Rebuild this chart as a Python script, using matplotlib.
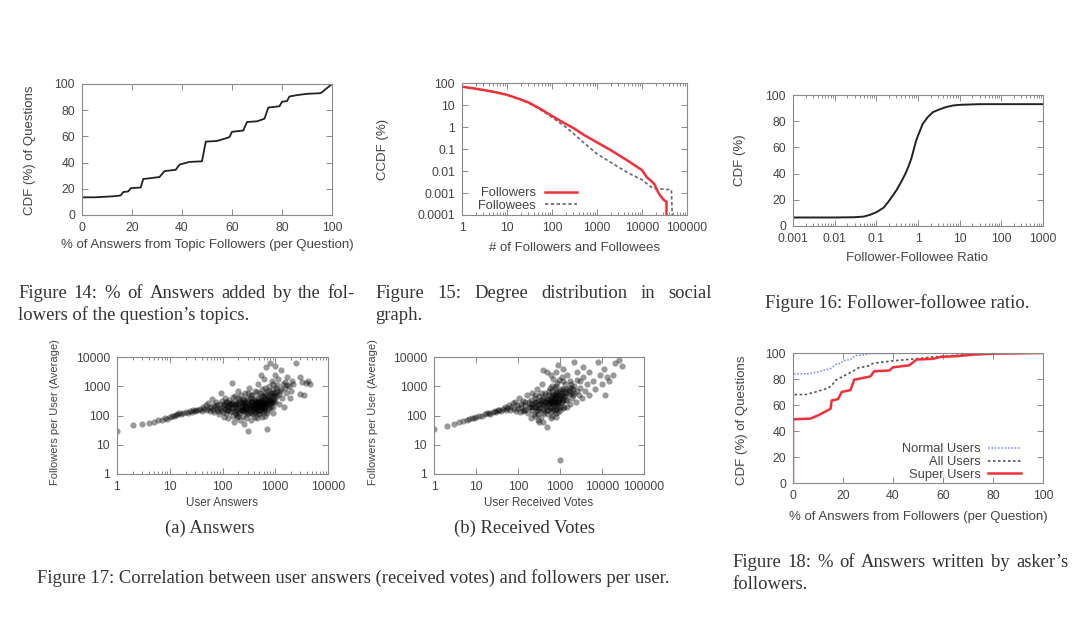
import numpy as np
import matplotlib
matplotlib.use("Agg")
import matplotlib.pyplot as plt
from matplotlib.ticker import FuncFormatter, NullFormatter

W, H = 1080, 629
TEXT = "#444444"
SANS = "Liberation Sans"
SERIF = "Liberation Serif"

# Figure 14: CDF of % answers from topic followers
topic_x = [0, 5, 10, 14, 15.5, 16.5, 18.5, 19.5, 23.5, 24.5, 27, 31, 33, 37.5, 39, 43, 48, 49.5,
           54, 57.5, 59, 60, 64.5, 66, 70, 73, 74.5, 79, 80, 82, 83, 86, 90, 95.5, 100]
topic_y = [13.5, 13.5, 14, 14.5, 15, 17.5, 18, 20.5, 21, 27.5, 28, 29, 33.5, 34.5, 38.5, 40.5, 41, 56,
           56.5, 58.5, 59.5, 63.5, 64.5, 71, 71.5, 73.5, 82, 83, 86.5, 87, 90.5, 91.5, 92.5, 93, 100]

# Figure 15: degree distribution (CCDF)
followers_x = [1, 2, 3, 5, 10, 20, 30, 50, 100, 200, 300, 500, 1000, 2000, 5000, 10000, 13000,
               15000, 19000, 21000, 25000, 30000, 35000, 35000]
followers_y = [68, 55, 48, 40, 29, 18, 13, 7.5, 3.2, 1.4, 0.9, 0.45, 0.2, 0.09, 0.028, 0.011, 0.005,
               0.004, 0.0025, 0.0015, 0.0008, 0.0005, 0.0004, 0.0001]
followees_x = [1, 2, 3, 5, 10, 20, 30, 50, 100, 200, 300, 500, 1000, 2000, 5000, 10000, 17000,
               20000, 30000, 45000, 47000]
followees_y = [68, 55, 48, 40, 29, 18, 12.5, 7, 2.8, 1.0, 0.5, 0.2, 0.06, 0.025, 0.008, 0.004, 0.0017,
               0.0016, 0.0015, 0.0014, 0.0001]

# Figure 16: follower-followee ratio CDF
ratio_x = [0.001, 0.01, 0.03, 0.05, 0.07, 0.1, 0.15, 0.2, 0.3, 0.4, 0.5, 0.6, 0.7, 0.8, 0.9, 1.0,
           1.3, 1.7, 2.3, 3, 4, 5, 7, 10, 30, 100, 1000]
ratio_y = [6.5, 6.5, 6.7, 7.2, 8.5, 10.5, 14, 19, 27, 34, 40, 46, 52, 59, 65, 69,
           78, 83, 87, 88.5, 90, 91, 92, 92.5, 93, 93, 93]

# Figure 17: (answers, followers) and (votes, followers) per user
answers_pts = [
    (1, 30), (2, 48), (3, 52), (4, 55), (5, 62), (6, 68), (7, 72), (8, 80), (9, 78), (10, 88),
    (11, 95), (12, 100), (13, 108), (14, 112), (15, 118), (16, 110), (18, 125), (20, 130), (22, 120),
    (24, 140), (26, 135), (28, 150), (30, 145), (32, 160), (35, 155), (38, 170), (40, 140), (42, 190),
    (45, 165), (48, 220), (50, 150), (52, 260), (55, 180), (58, 140), (60, 200), (62, 380), (65, 160),
    (68, 230), (70, 130), (72, 190), (75, 300), (78, 170), (80, 220), (82, 140), (85, 110), (88, 250),
    (90, 180), (92, 600), (95, 150), (98, 320), (100, 200), (100, 130), (105, 90), (108, 240),
    (110, 170), (112, 400), (115, 120), (118, 280), (120, 190), (125, 150), (128, 80), (130, 350),
    (135, 220), (140, 130), (145, 260), (150, 180), (150, 1300), (155, 100), (160, 300), (165, 60),
    (170, 220), (175, 450), (180, 150), (185, 90), (190, 250), (195, 700), (200, 180), (205, 120),
    (210, 330), (215, 70), (220, 200), (225, 500), (230, 150), (235, 260), (240, 100), (245, 380),
    (250, 220), (255, 50), (260, 170), (265, 600), (270, 280), (275, 130), (280, 200), (285, 80),
    (290, 400), (295, 160), (300, 250), (300, 30), (310, 120), (320, 900), (330, 180), (340, 300),
    (350, 70), (360, 220), (370, 500), (380, 150), (390, 350), (400, 200), (410, 90), (420, 700),
    (430, 260), (440, 130), (450, 400), (460, 180), (470, 1200), (480, 300), (490, 110), (500, 220),
    (510, 600), (520, 160), (530, 2500), (540, 350), (550, 90), (560, 250), (570, 800), (580, 180),
    (590, 450), (600, 130), (610, 300), (620, 1800), (630, 200), (640, 550), (650, 100), (660, 350),
    (670, 4500), (680, 250), (690, 700), (700, 35), (720, 160), (740, 400), (760, 1000), (780, 280),
    (800, 6000), (820, 600), (840, 200), (860, 1500), (880, 350), (900, 800), (920, 120), (950, 500),
    (980, 2500), (1000, 300), (1000, 5000), (1050, 900), (1100, 450), (1150, 1800), (1200, 250),
    (1250, 700), (1300, 3500), (1350, 400), (1400, 1200), (1450, 200), (1500, 900), (1600, 600),
    (1700, 2000), (1800, 1000), (1900, 400), (2000, 700), (2100, 1500), (2200, 1200), (2500, 6000),
    (3000, 2000), (3200, 1400), (3500, 500), (3800, 1300), (4200, 1500), (4500, 1200), (3000, 550),
    (180, 200), (200, 240), (220, 160), (240, 300), (260, 220), (280, 170), (300, 350), (320, 200),
    (340, 150), (360, 280), (380, 230), (400, 180), (420, 320), (440, 250), (460, 210), (480, 160),
    (500, 400), (520, 280), (540, 200), (560, 330), (580, 260), (600, 210), (650, 450), (700, 300),
    (750, 240), (800, 350), (850, 450), (900, 280), (950, 330), (1000, 600), (350, 400), (450, 300),
    (250, 350), (150, 250), (130, 200), (170, 130), (380, 110), (550, 140), (700, 120), (450, 80),
    (110, 220), (120, 160), (140, 240), (160, 190), (180, 260), (200, 140), (210, 280), (230, 200),
    (250, 160), (270, 240), (290, 190), (310, 270), (330, 230), (350, 180), (370, 320), (390, 200),
    (410, 260), (430, 170), (450, 220), (470, 280), (490, 190), (510, 240), (530, 320), (550, 220),
    (570, 180), (590, 290), (610, 240), (630, 380), (660, 220), (690, 260), (720, 420), (760, 330),
    (800, 500), (850, 300), (900, 600), (1000, 420), (1100, 700), (1200, 550), (300, 110), (400, 130),
    (500, 120), (600, 160), (250, 140), (350, 120), (200, 100), (150, 140), (180, 110), (450, 150),
    (650, 180), (750, 180), (800, 250), (900, 200), (350, 500), (450, 650), (550, 500), (650, 900),
    (750, 700), (900, 1200), (1100, 1100), (1300, 800), (1500, 1400), (1700, 1100), (200, 400),
    (300, 600), (120, 300), (160, 420),
]
votes_pts = [
    (1, 35), (2, 45), (3, 52), (4, 58), (5, 65), (6, 70), (7, 75), (8, 80), (9, 82), (10, 88),
    (12, 95), (14, 100), (16, 110), (18, 120), (20, 125), (22, 115), (25, 135), (28, 140), (30, 130),
    (33, 150), (36, 160), (40, 145), (44, 170), (48, 200), (52, 160), (56, 180), (60, 230), (65, 150),
    (70, 200), (75, 260), (80, 170), (85, 300), (90, 140), (95, 220), (100, 180), (105, 400),
    (110, 130), (115, 250), (120, 190), (130, 320), (140, 150), (150, 230), (160, 500), (170, 120),
    (180, 280), (190, 200), (200, 80), (200, 350), (210, 160), (220, 600), (230, 250), (240, 110),
    (250, 400), (260, 190), (270, 300), (280, 140), (290, 800), (300, 220), (310, 60), (320, 450),
    (340, 180), (360, 330), (380, 1200), (400, 250), (420, 120), (440, 600), (460, 200), (480, 380),
    (500, 3000), (500, 40), (520, 150), (540, 500), (560, 260), (580, 900), (600, 180), (620, 350),
    (640, 100), (660, 700), (680, 250), (700, 1800), (720, 400), (740, 150), (760, 550), (780, 300),
    (800, 120), (820, 1000), (850, 450), (880, 200), (900, 5500), (920, 650), (950, 280), (980, 400),
    (1000, 3), (1000, 150), (1050, 800), (1100, 300), (1150, 1500), (1200, 450), (1250, 200),
    (1300, 700), (1400, 350), (1500, 2500), (1600, 550), (1700, 250), (1800, 1200), (1900, 400),
    (2000, 800), (2100, 7000), (2200, 600), (2400, 300), (2600, 1600), (2800, 500), (3000, 900),
    (3300, 400), (3600, 2000), (4000, 700), (4500, 1200), (5000, 3000), (5000, 500), (6000, 1500),
    (7000, 800), (8000, 7000), (9000, 2500), (10000, 1200), (11000, 4000), (12000, 500),
    (13000, 2000), (15000, 1500), (18000, 2500), (20000, 6000), (25000, 8000), (30000, 5000),
    (150, 300), (200, 250), (250, 200), (300, 320), (350, 260), (400, 400), (450, 300), (500, 220),
    (550, 350), (600, 450), (650, 300), (700, 500), (750, 380), (800, 650), (850, 300), (900, 400),
    (1000, 500), (1100, 600), (1200, 350), (1400, 800), (1600, 900), (1800, 600), (400, 170),
    (600, 280), (800, 220), (300, 150), (500, 160), (250, 100), (700, 200), (350, 90),
    (220, 200), (260, 300), (300, 180), (340, 250), (380, 330), (420, 220), (460, 280), (500, 350),
    (540, 260), (580, 200), (620, 320), (660, 420), (700, 260), (740, 330), (780, 450), (820, 300),
    (860, 550), (900, 250), (950, 350), (1000, 700), (1050, 400), (1100, 300), (1150, 500),
    (1200, 800), (1300, 450), (1400, 600), (1500, 350), (1600, 700), (1800, 900), (2000, 500),
    (2200, 1000), (2500, 700), (3000, 1500), (300, 110), (400, 140), (500, 110), (600, 130),
    (700, 150), (800, 170), (900, 130), (1000, 200), (1200, 180), (1500, 200), (450, 500),
    (550, 700), (650, 1000), (750, 900), (850, 1300), (950, 1600), (1100, 2000), (1300, 1200),
    (1700, 1500), (350, 600), (250, 500), (180, 200), (150, 160), (130, 140), (400, 3500),
    (600, 2500), (800, 3000), (1200, 4000), (2500, 3000), (3500, 4500), (400, 60), (600, 80),
    (800, 90), (300, 70),
]

# Figure 18: % of answers written by asker's followers
normal_x = [0, 0, 6, 10, 13, 15, 17, 19, 20, 23, 25, 28, 31, 40, 60, 80, 100]
normal_y = [0, 84, 84, 85.5, 87, 88, 91, 92, 94, 95, 98, 98.5, 99.5, 99.7, 99.9, 100, 100]
all_x = [0, 0, 5, 9, 14, 15.5, 17, 21, 24, 26, 30, 32, 36, 40, 46, 50, 56, 64, 70, 80, 100]
all_y = [0, 68, 68, 70, 73, 75, 79, 83, 86, 88.5, 90, 92, 93, 94, 95, 95.7, 97, 98, 99, 99.5, 100]
super_x = [0, 0, 7, 10, 13, 15, 15.5, 18, 19.5, 23, 24.5, 26, 31, 32.5, 38.5, 40, 46.5, 49.5,
           56, 59, 65, 72, 80, 100]
super_y = [0, 49, 49.5, 52, 55, 57, 63.5, 64.5, 70, 71.5, 79.5, 80, 82, 86, 86.5, 89, 90.5, 95,
           95.5, 97, 97.5, 98.7, 99.5, 100]

plain = FuncFormatter(lambda v, p: "%g" % v)


def rect(l, t, r, b):
    return [l / W, 1 - b / H, (r - l) / W, (b - t) / H]


def fpos(x, y):
    return x / W, 1 - y / H


def style(ax):
    for s in ax.spines.values():
        s.set_color("#8a8a8a")
        s.set_linewidth(0.8)
        s.set_linestyle((0, (1, 1)))
    ax.tick_params(which="both", direction="in", top=True, right=True, color="#777777",
                   width=0.6, labelsize=8.8, labelcolor=TEXT, pad=5)
    ax.tick_params(which="major", length=4)
    ax.tick_params(which="minor", length=2)
    ax.xaxis.set_major_formatter(plain)
    ax.yaxis.set_major_formatter(plain)
    ax.xaxis.set_minor_formatter(NullFormatter())
    ax.yaxis.set_minor_formatter(NullFormatter())


def label(x, y, s, rot=0, size=9.5):
    fig.text(*fpos(x, y), s, rotation=rot, ha="center", va="center",
             fontsize=size, color=TEXT, family=SANS)


plt.rcParams["font.family"] = SANS
fig = plt.figure(figsize=(W / 100, H / 100), dpi=100)
fig.patch.set_facecolor("white")

# ---- Figure 14
ax1 = fig.add_axes(rect(82, 84, 332, 215))
ax1.plot(topic_x, topic_y, color="#222222", lw=1.3)
ax1.set_xlim(0, 100)
ax1.set_ylim(0, 100)
ax1.set_xticks(range(0, 101, 20))
ax1.set_yticks(range(0, 101, 20))
style(ax1)
label(207, 245, "% of Answers from Topic Followers (per Question)")
label(30, 150, "CDF (%) of Questions", 90)

# ---- Figure 15
ax2 = fig.add_axes(rect(462, 83, 687, 215))
ax2.plot(followees_x, followees_y, color="#666666", lw=1.2, ls=(0, (2, 1.5)), label="Followees")
ax2.plot(followers_x, followers_y, color="#f0303a", lw=1.8, label="Followers")
ax2.set_xscale("log")
ax2.set_yscale("log")
ax2.set_xlim(1, 1e5)
ax2.set_ylim(1e-4, 100)
ax2.set_xticks([1, 10, 100, 1000, 1e4, 1e5])
ax2.set_yticks([1e-4, 1e-3, 0.01, 0.1, 1, 10, 100])
style(ax2)
h, l = ax2.get_legend_handles_labels()
ax2.legend(h[::-1], l[::-1], loc="upper right", bbox_to_anchor=(0.54, 0.26), frameon=False,
           markerfirst=False, borderpad=0, handlelength=2.5, handletextpad=0.7,
           labelspacing=0.05, fontsize=9.3, labelcolor=TEXT)
label(575, 248, "# of Followers and Followees")
label(383, 149, "CCDF (%)", 90)

# ---- Figure 16
ax3 = fig.add_axes(rect(793, 95, 1043, 226))
ax3.plot(ratio_x, ratio_y, color="#222222", lw=1.4)
ax3.set_xscale("log")
ax3.set_xlim(0.001, 1000)
ax3.set_ylim(0, 100)
ax3.set_xticks([0.001, 0.01, 0.1, 1, 10, 100, 1000])
ax3.set_yticks(range(0, 101, 20))
style(ax3)
label(917, 258, "Follower-Followee Ratio")
label(740, 160, "CDF (%)", 90)

# ---- Figure 17 (a) and (b)
for (l_, r_, pts, xmax, xlab, xc, yl) in [
        (117, 328, answers_pts, 1e4, "User Answers", 222, 55),
        (434, 644, votes_pts, 1e5, "User Received Votes", 539, 373)]:
    ax = fig.add_axes(rect(l_, 357, r_, 474))
    xs, ys = np.array(pts, dtype=float).T
    ax.scatter(xs, ys, s=20, color="black", alpha=0.4, linewidths=0)
    ax.set_xscale("log")
    ax.set_yscale("log")
    ax.set_xlim(1, xmax)
    ax.set_ylim(1, 1e4)
    ax.set_xticks([10 ** k for k in range(int(np.log10(xmax)) + 1)])
    ax.set_yticks([1, 10, 100, 1000, 1e4])
    style(ax)
    label(xc, 503, xlab, size=8.4)
    label(yl, 412, "Followers per User (Average)", 90, size=8.0)

# ---- Figure 18
ax6 = fig.add_axes(rect(793, 353, 1043, 483))
ax6.plot(normal_x, normal_y, color="#8095ff", lw=1.2, ls=(0, (1, 1)), label="Normal Users")
ax6.plot(all_x, all_y, color="#555555", lw=1.2, ls=(0, (1.5, 1.5)), label="All Users")
ax6.plot(super_x, super_y, color="#f0303a", lw=1.8, label="Super Users")
ax6.set_xlim(0, 100)
ax6.set_ylim(0, 100)
ax6.set_xticks(range(0, 101, 20))
ax6.set_yticks(range(0, 101, 20))
style(ax6)
ax6.legend(loc="upper right", bbox_to_anchor=(0.936, 0.355), frameon=False, markerfirst=False,
           borderpad=0, handlelength=2.5, handletextpad=0.6, labelspacing=0.05, fontsize=9.3,
           labelcolor=TEXT)
label(918, 517, "% of Answers from Followers (per Question)")
label(742, 420, "CDF (%) of Questions", 90)

# ---- captions
renderer = fig.canvas.get_renderer()


def caption(x0, y, s, x1=None, ha="left"):
    kw = dict(fontsize=13.4, color="#333333", family=SERIF, va="baseline")
    if x1 is None:
        fig.text(*fpos(x0, y), s, ha=ha, **kw)
        return
    words = s.split()
    items = [fig.text(0, 0, w, ha="left", **kw) for w in words]
    widths = [t.get_window_extent(renderer).width for t in items]
    gap = (x1 - x0 - sum(widths)) / (len(words) - 1)
    x = x0
    for t, w in zip(items, widths):
        t.set_position(fpos(x, y))
        x += w + gap


caption(18, 298, "Figure 14: % of Answers added by the fol-", 355)
caption(18, 320, "lowers of the question\u2019s topics.")
caption(375, 298, "Figure 15: Degree distribution in social", 712)
caption(375, 320, "graph.")
caption(765, 308, "Figure 16: Follower-followee ratio.")
caption(210, 533, "(a) Answers", ha="center")
caption(525, 533, "(b) Received Votes", ha="center")
caption(37, 583, "Figure 17: Correlation between user answers (received votes) and followers per user.")
caption(732, 567, "Figure 18: % of Answers written by asker\u2019s", 1068)
caption(732, 589, "followers.")

fig.savefig("out.png", dpi=100, facecolor="white")
